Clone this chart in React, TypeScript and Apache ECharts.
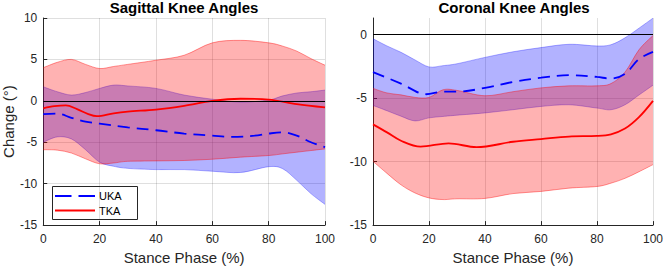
import React, { useEffect, useRef } from "react";
import * as echarts from "echarts";

// Stance phase samples (%) used for the ±SD bands
const bandX = [0, 5, 10, 15, 20, 25, 30, 40, 50, 60, 70, 80, 85, 90, 95, 100];

// Sagittal plane (°)
const sagTkaUpper = [4.0, 4.65, 5.0, 4.4, 3.9, 4.15, 4.4, 4.9, 5.5, 7.0, 7.3, 7.0, 6.6, 6.0, 5.1, 4.3];
const sagTkaLower = [-5.9, -5.95, -6.3, -7.0, -7.6, -7.5, -7.3, -7.25, -7.2, -7.05, -6.8, -6.6, -6.4, -6.2, -6.0, -5.8];
const sagUkaUpper = [1.7, 1.1, 0.7, 1.0, 1.5, 1.9, 1.8, 1.5, 0.7, 0.2, -0.15, 0.1, 0.6, 0.95, 1.1, 1.3];
const sagUkaLower = [-5.0, -4.35, -4.6, -5.9, -7.4, -7.9, -8.15, -8.3, -8.3, -8.5, -8.65, -7.95, -8.2, -9.6, -11.2, -12.5];
const sagTkaMeanX = [0, 4, 8, 12, 16, 19, 25, 30, 40, 50, 60, 70, 80, 90, 100];
const sagTkaMean = [-0.9, -0.65, -0.55, -1.0, -1.6, -1.85, -1.5, -1.3, -1.05, -0.6, 0.0, 0.25, 0.15, -0.4, -0.8];
const sagUkaMeanX = [0, 5, 10, 15, 20, 30, 40, 50, 60, 67, 75, 80, 85, 90, 95, 100];
const sagUkaMean = [-1.6, -1.55, -2.05, -2.5, -2.75, -3.2, -3.55, -3.95, -4.2, -4.35, -4.2, -3.95, -3.8, -4.2, -5.0, -5.6];

// Coronal plane (°)
const corTkaUpper = [-4.24, -4.6, -4.75, -4.95, -4.95, -4.35, -4.4, -4.82, -4.5, -4.2, -4.04, -4.04, -3.86, -2.96, -1.2, -0.08];
const corTkaLower = [-9.98, -10.93, -11.83, -12.47, -12.86, -12.99, -12.93, -12.9, -12.52, -12.35, -12.09, -11.96, -11.7, -11.32, -10.8, -10.24];
const corUkaUpper = [-0.33, -0.9, -1.4, -2.0, -2.55, -2.45, -2.3, -1.8, -1.36, -1.03, -0.77, -0.9, -0.8, -0.26, 0.5, 1.29];
const corUkaLower = [-5.58, -6.0, -6.43, -6.8, -6.56, -6.45, -6.35, -6.17, -5.92, -5.66, -5.53, -5.79, -5.92, -5.53, -4.76, -3.99];
const corTkaMeanX = [0, 5, 10, 17, 27, 37, 50, 60, 70, 80, 85, 90, 95, 100];
const corTkaMean = [-7.07, -7.7, -8.36, -8.82, -8.56, -8.87, -8.44, -8.23, -8.03, -7.98, -7.85, -7.4, -6.5, -5.22];
const corUkaMeanX = [0, 10, 19, 25, 30, 40, 50, 60, 70, 80, 85, 90, 95, 100];
const corUkaMean = [-2.96, -3.86, -4.7, -4.5, -4.5, -4.2, -3.73, -3.4, -3.2, -3.34, -3.47, -3.1, -1.93, -1.36];

const xTicks = { min: 0, max: 100, interval: 20 };
const sagY = { min: -15, max: 10, interval: 5 };
const corY = { min: -15, max: 1.3, interval: 5 };
const corYTicks = [-15, -10, -5, 0];

const titles = ["Sagittal Knee Angles", "Coronal Knee Angles"];
const groups = ["UKA", "TKA"];

const FONT = "'Liberation Sans', Arial, Helvetica, sans-serif";
const AXIS = "#262626";
const GRID = "rgba(38,38,38,0.15)";
const UKA_COLOR = "#0000ff";
const TKA_COLOR = "#ff0000";
const UKA_FILL = "rgba(0,0,255,0.3)";
const TKA_FILL = "rgba(255,0,0,0.3)";
const UKA_EDGE = "rgba(0,0,255,0.3)";
const TKA_EDGE = "rgba(255,0,0,0.4)";
const UKA_DASH = [12, 7];
const LEGEND_DASH = [16.5, 7];
const SMOOTH = 0.35;

const zip = (xs: number[], ys: number[]) => xs.map((x, i) => [x, ys[i]]);

// Catmull-Rom curve through pixel points, as cubic bezier commands
function curveCmds(pts: number[][], start: boolean) {
  let d = start ? `M${pts[0][0]},${pts[0][1]}` : `L${pts[0][0]},${pts[0][1]}`;
  for (let i = 0; i < pts.length - 1; i++) {
    const p0 = pts[Math.max(i - 1, 0)];
    const p1 = pts[i];
    const p2 = pts[i + 1];
    const p3 = pts[Math.min(i + 2, pts.length - 1)];
    const c1x = p1[0] + (p2[0] - p0[0]) / 6;
    const c1y = p1[1] + (p2[1] - p0[1]) / 6;
    const c2x = p2[0] - (p3[0] - p1[0]) / 6;
    const c2y = p2[1] - (p3[1] - p1[1]) / 6;
    d += ` C${c1x},${c1y} ${c2x},${c2y} ${p2[0]},${p2[1]}`;
  }
  return d;
}

// Shaded ±SD band: filled region between the lower and upper curves, plus faint edges
function bandSeries(grid: number, key: string, upper: number[], lower: number[], fill: string, edge: string) {
  return {
    name: `${key} band ${grid}`,
    type: "custom",
    xAxisIndex: grid,
    yAxisIndex: grid,
    silent: true,
    clip: true,
    encode: { x: 0, y: [1, 2] },
    data: bandX.map((x, i) => [x, lower[i], upper[i]]),
    renderItem: (params: any, api: any) => {
      if (params.dataIndex !== 0) return null;
      const up = bandX.map((x, i) => api.coord([x, upper[i]]));
      const lo = bandX.map((x, i) => api.coord([x, lower[i]]));
      const loRev = lo.slice().reverse();
      const area = curveCmds(up, true) + " " + curveCmds(loRev, false) + " Z";
      return {
        type: "group",
        children: [
          { type: "path", shape: { pathData: area }, style: { fill, stroke: "none" } },
          { type: "path", shape: { pathData: curveCmds(up, true) }, style: { fill: "none", stroke: edge, lineWidth: 1 } },
          { type: "path", shape: { pathData: curveCmds(lo, true) }, style: { fill: "none", stroke: edge, lineWidth: 1 } },
        ],
      };
    },
  };
}

function meanSeries(grid: number, name: string, xs: number[], ys: number[], color: string, dashed: boolean, zeroLine: boolean) {
  const s: any = {
    name,
    type: "line",
    xAxisIndex: grid,
    yAxisIndex: grid,
    smooth: SMOOTH,
    symbol: "none",
    lineStyle: { color, width: 1.8, type: dashed ? UKA_DASH : "solid" },
    itemStyle: { color },
    data: zip(xs, ys),
  };
  if (zeroLine) {
    s.markLine = {
      silent: true,
      symbol: "none",
      label: { show: false },
      lineStyle: { color: "#000", width: 1.2, type: "solid" },
      data: [{ yAxis: 0 }],
    };
  }
  return s;
}

function xAxis(grid: number) {
  return {
    type: "value",
    gridIndex: grid,
    ...xTicks,
    name: "Stance Phase (%)",
    nameLocation: "middle",
    nameGap: 21,
    nameTextStyle: { fontSize: 15, color: AXIS, fontFamily: FONT },
    axisLine: { show: true, onZero: false, lineStyle: { color: AXIS, width: 1 } },
    axisTick: { show: true, inside: true, length: 4, lineStyle: { color: AXIS } },
    axisLabel: { fontSize: 12, color: AXIS, margin: 8, fontFamily: FONT },
    splitLine: { show: true, lineStyle: { color: GRID, width: 1 } },
  };
}

// Legend box drawn inside the sagittal panel
const LEG = { x: 52, y: 186, w: 85, h: 33 };
function legendGraphic() {
  const rows = [
    { label: groups[0], color: UKA_COLOR, dash: LEGEND_DASH, cy: LEG.y + 10 },
    { label: groups[1], color: TKA_COLOR, dash: null as number[] | null, cy: LEG.y + 24.5 },
  ];
  const children: any[] = [
    {
      type: "rect",
      shape: { x: LEG.x + 0.5, y: LEG.y + 0.5, width: LEG.w, height: LEG.h },
      style: { fill: "#fff", stroke: AXIS, lineWidth: 1 },
    },
  ];
  rows.forEach((r) => {
    children.push({
      type: "line",
      shape: { x1: LEG.x + 3, y1: r.cy, x2: LEG.x + 43, y2: r.cy },
      style: { stroke: r.color, lineWidth: 1.8, lineDash: r.dash || undefined },
    });
    children.push({
      type: "text",
      x: LEG.x + 47,
      y: r.cy,
      style: { text: r.label, fontSize: 11, fontFamily: FONT, fill: "#000", verticalAlign: "middle", align: "left" },
    });
  });
  return { type: "group", z: 100, children };
}

export default function App() {
  const ref = useRef<HTMLDivElement>(null);

  useEffect(() => {
    if (!ref.current) return;
    const chart = echarts.init(ref.current, null, { renderer: "svg" });

    const option: any = {
      animation: false,
      backgroundColor: "#fff",
      textStyle: { fontFamily: FONT },
      title: [
        { text: titles[0], left: 184, top: 0, padding: 0, textAlign: "center", textStyle: { fontSize: 15, fontWeight: "bold", color: "#000", fontFamily: FONT } },
        { text: titles[1], left: 514, top: 0, padding: 0, textAlign: "center", textStyle: { fontSize: 15, fontWeight: "bold", color: "#000", fontFamily: FONT } },
      ],
      grid: [
        { left: 43, right: 341, top: 18, bottom: 41 },
        { left: 373, right: 11, top: 18, bottom: 41 },
      ],
      xAxis: [xAxis(0), xAxis(1)],
      yAxis: [
        {
          type: "value",
          gridIndex: 0,
          ...sagY,
          name: "Change (°)",
          nameLocation: "middle",
          nameGap: 24,
          nameTextStyle: { fontSize: 15, color: AXIS, fontFamily: FONT },
          axisLine: { show: true, onZero: false, lineStyle: { color: AXIS, width: 1 } },
          axisTick: { show: true, inside: true, length: 4, lineStyle: { color: AXIS } },
          axisLabel: { fontSize: 12, color: AXIS, margin: 6, fontFamily: FONT },
          splitLine: { show: true, lineStyle: { color: GRID, width: 1 } },
        },
        {
          type: "value",
          gridIndex: 1,
          ...corY,
          axisLine: { show: true, onZero: false, lineStyle: { color: AXIS, width: 1 } },
          axisTick: { show: true, inside: true, length: 4, lineStyle: { color: AXIS }, customValues: corYTicks },
          axisLabel: { fontSize: 12, color: AXIS, margin: 6, fontFamily: FONT, customValues: corYTicks },
          splitLine: { show: true, lineStyle: { color: GRID, width: 1 } },
        },
      ],
      graphic: [legendGraphic()],
      series: [
        bandSeries(0, "UKA", sagUkaUpper, sagUkaLower, UKA_FILL, UKA_EDGE),
        meanSeries(0, "UKA", sagUkaMeanX, sagUkaMean, UKA_COLOR, true, false),
        bandSeries(0, "TKA", sagTkaUpper, sagTkaLower, TKA_FILL, TKA_EDGE),
        meanSeries(0, "TKA", sagTkaMeanX, sagTkaMean, TKA_COLOR, false, true),
        bandSeries(1, "UKA", corUkaUpper, corUkaLower, UKA_FILL, UKA_EDGE),
        meanSeries(1, "UKA", corUkaMeanX, corUkaMean, UKA_COLOR, true, false),
        bandSeries(1, "TKA", corTkaUpper, corTkaLower, TKA_FILL, TKA_EDGE),
        meanSeries(1, "TKA", corTkaMeanX, corTkaMean, TKA_COLOR, false, true),
      ],
    };

    chart.setOption(option);
    return () => chart.dispose();
  }, []);

  return <div ref={ref} style={{ position: "absolute", left: 0, top: 0, width: 666, height: 270 }} />;
}
